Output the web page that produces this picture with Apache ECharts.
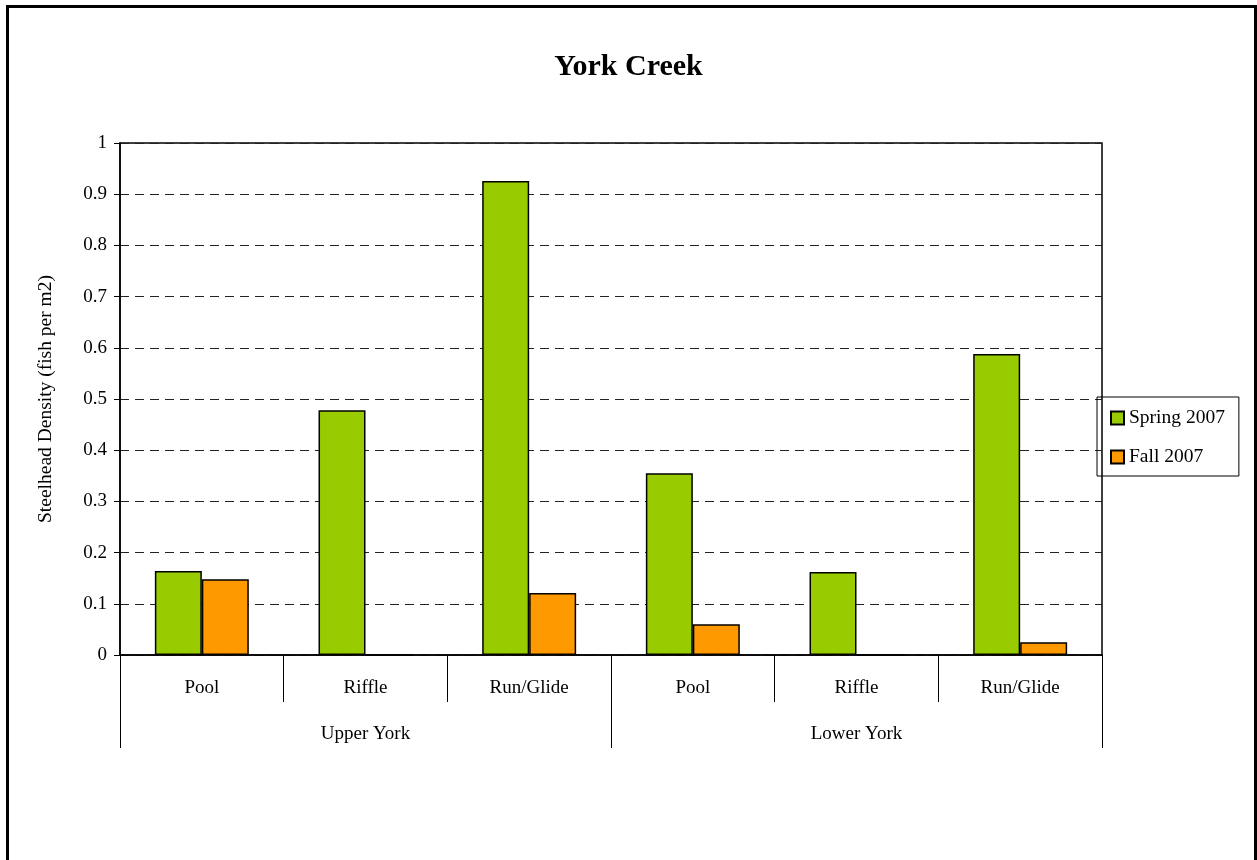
<!DOCTYPE html>
<html><head><meta charset="utf-8">
<script src="https://cdn.jsdelivr.net/npm/echarts@6/dist/echarts.min.js"></script>
<style>html,body{margin:0;padding:0;background:#fff}#c{width:1257px;height:860px}</style>
</head><body><div id="c"></div>
<script>
const habitats = ['Pool', 'Riffle', 'Run/Glide', 'Pool', 'Riffle', 'Run/Glide'];
const reaches = ['Upper York', 'Lower York'];
const spring2007 = [0.164, 0.478, 0.926, 0.355, 0.162, 0.588];
const fall2007 = [0.148, 0, 0.121, 0.060, 0, 0.025];
const FONT = 'Liberation Serif';

const chart = echarts.init(document.getElementById('c'), null, {renderer: 'canvas'});
chart.setOption({
  backgroundColor: '#fff',
  animation: false,
  textStyle: {fontFamily: FONT, color: '#000'},
  title: {
    text: 'York Creek', left: 'center', top: 47,
    textStyle: {fontFamily: FONT, fontWeight: 'bold', fontSize: 30, color: '#000'}
  },
  graphic: [{
    type: 'rect', shape: {x: 7.5, y: 6.5, width: 1248, height: 900},
    style: {fill: 'none', stroke: '#000', lineWidth: 3}, silent: true, z: 100
  }],
  legend: {
    orient: 'vertical', left: 1097, top: 397,
    padding: [11, 14, 9, 13],
    itemGap: 19, itemWidth: 13, itemHeight: 13, icon: 'rect',
    borderColor: '#000', borderWidth: 1,
    textStyle: {fontFamily: FONT, fontSize: 19.5, color: '#000'},
    data: ['Spring 2007', 'Fall 2007']
  },
  grid: {
    left: 120, top: 143, right: 155, bottom: 205,
    show: true, borderColor: '#000', borderWidth: 1.5, backgroundColor: 'transparent'
  },
  xAxis: [{
    type: 'category', data: habitats, position: 'bottom',
    axisLine: {show: true, lineStyle: {color: '#000', width: 1.5}},
    axisTick: {show: true, length: 47, alignWithLabel: false, lineStyle: {color: '#000', width: 1}},
    axisLabel: {fontFamily: FONT, fontSize: 19, color: '#000', margin: 24},
    splitLine: {show: false}
  }, {
    type: 'category', data: reaches, position: 'bottom',
    axisLine: {show: false},
    axisTick: {show: true, length: 93, alignWithLabel: false, lineStyle: {color: '#000', width: 1}},
    axisLabel: {fontFamily: FONT, fontSize: 19, color: '#000', margin: 70},
    splitLine: {show: false}
  }],
  yAxis: {
    type: 'value', min: 0, max: 1, interval: 0.1,
    name: 'Steelhead Density (fish per m2)', nameLocation: 'middle', nameGap: 64, nameRotate: 90,
    nameTextStyle: {fontFamily: FONT, fontSize: 19.5, color: '#000'},
    axisLine: {show: true, lineStyle: {color: '#000', width: 1.5}},
    axisTick: {show: true, length: 6, lineStyle: {color: '#000'}},
    axisLabel: {fontFamily: FONT, fontSize: 19, color: '#000', margin: 13},
    splitLine: {show: true, lineStyle: {color: '#222', type: [9, 6], width: 1}}
  },
  series: [{
    name: 'Spring 2007', type: 'bar', data: spring2007, xAxisIndex: 0,
    barGap: '0%', barCategoryGap: '42.6%',
    itemStyle: {color: '#99CC00', borderColor: '#000', borderWidth: 1.5}
  }, {
    name: 'Fall 2007', type: 'bar', data: fall2007, xAxisIndex: 0,
    itemStyle: {color: '#FF9900', borderColor: '#000', borderWidth: 1.5}
  }]
});
</script></body></html>
